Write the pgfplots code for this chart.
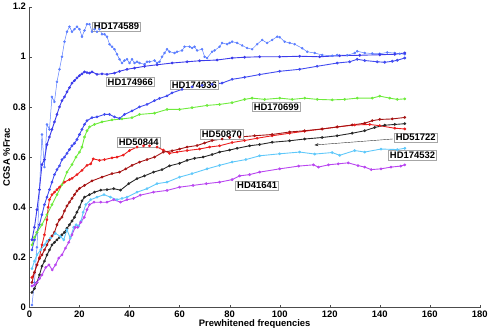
\documentclass[border=0pt]{standalone}
\usepackage{pgfplots}
\pgfplotsset{compat=1.18}
\usepackage{fontspec}
\setmainfont{Liberation Sans}
\usetikzlibrary{arrows.meta}

\definecolor{cA}{RGB}{90,125,255}
\definecolor{cB}{RGB}{60,60,235}
\definecolor{cC}{RGB}{65,75,240}
\definecolor{cgreen}{RGB}{110,235,60}
\definecolor{cred}{RGB}{235,30,30}
\definecolor{cdred}{RGB}{165,20,20}
\definecolor{cblack}{RGB}{40,40,40}
\definecolor{ccyan}{RGB}{95,200,250}
\definecolor{cpurple}{RGB}{185,70,240}

\tikzset{lbl/.style={draw=gray!70, fill=white, font=\fontsize{9.5}{10}\selectfont\bfseries,
  inner sep=1.5pt, line width=0.6pt}}

\begin{document}
\begin{tikzpicture}
\begin{axis}[
  scale only axis,
  width=452bp, height=302bp,
  xmin=0, xmax=180, ymin=0, ymax=1.2,
  axis lines=left,
  axis line style={-, draw=black!70},
  tick align=inside,
  major tick length=3pt,
  tick style={black!70},
  xtick={0,20,...,180},
  ytick={0,0.2,...,1.2},
  yticklabel style={/pgf/number format/fixed},
  /pgf/number format/assume math mode=true,
  tick label style={font=\fontsize{9.5}{10}\selectfont\bfseries},
  label style={font=\fontsize{9.5}{10}\selectfont\bfseries},
  xlabel={Prewhitened frequencies},
  ylabel={CGSA \%Frac},
  xlabel style={yshift=5pt},
  ylabel style={yshift=-4pt},
  clip=false,
  every axis plot/.append style={mark=*, mark size=0.9pt, line width=0.9pt},
]

% HD174589
\addplot[cA, line width=0.5pt, mark size=1pt] coordinates {
(1,0.01)(2,0.10)(3,0.24)(4,0.47)(5,0.69)(6,0.56)(7,0.73)(8,0.71)(9,0.84)(10,0.82)
(11,0.90)(12,0.95)(13,1.00)(14,1.06)(15,1.10)(16,1.12)(17,1.10)(18,1.11)(19,1.12)(20,1.11)
(21,1.08)(22,1.105)(23,1.13)(24,1.13)(25,1.10)(26,1.11)(27,1.10)(28,1.11)(29,1.09)(30,1.09)
(31,1.08)(32,1.05)(33,1.04)(34,1.03)(35,1.01)(36,0.99)(37,0.975)(38,0.985)(39,0.99)(40,0.975)
(41,0.99)(42,0.975)(43,0.98)(44,0.975)(46,0.97)(47,0.98)(48,0.98)(50,0.985)(51,0.975)(52,0.98)
(53,1.0)(54,1.015)(55,1.03)(56,1.02)(58,1.015)(59,1.02)(61,1.025)(62,1.04)(64,1.04)(65,1.035)
(66,1.04)(67,1.025)(69,1.03)(70,1.0)(71,0.995)(73,1.02)(74,1.025)(76,1.04)(77,1.055)(79,1.05)
(80,1.055)(81,1.06)(83,1.055)(85,1.045)(87,1.035)(89,1.03)(91,1.05)(93,1.067)(95,1.055)(97,1.067)
(99,1.08)(100,1.078)(102,1.06)(104,1.055)(106,1.05)(109,1.034)(111,1.02)(114,1.015)(117,1.007)
(121,1.004)(123,1.007)(127,1.006)(130,1.015)(131,1.022)(134,1.015)(137,1.013)(140,1.012)
(143,1.017)(146,1.015)(148,1.012)(150,1.01)};

% HD174966
\addplot[cB] coordinates {
(1,0.27)(2,0.32)(3,0.39)(4,0.47)(5,0.57)(6,0.59)(7,0.65)(8,0.68)(9,0.71)(10,0.74)
(11,0.77)(12,0.80)(13,0.825)(14,0.84)(15,0.86)(16,0.877)(17,0.895)(18,0.905)(19,0.916)(20,0.925)
(21,0.932)(22,0.94)(23,0.937)(24,0.935)(25,0.94)(27,0.93)(29,0.932)(31,0.93)(34,0.935)(36,0.942)
(39,0.95)(42,0.955)(46,0.962)(51,0.968)(57,0.975)(63,0.98)(68,0.984)(75,0.987)(81,0.995)(86,0.998)
(92,1.0)(100,1.0)(108,1.002)(116,1.0)(124,1.004)(132,1.006)(140,1.008)(146,1.01)(150,1.015)};

% HD174936
\addplot[cC] coordinates {
(1,0.23)(2,0.27)(3,0.30)(4,0.33)(5,0.37)(6,0.41)(7,0.44)(8,0.47)(9,0.50)(10,0.53)
(11,0.55)(12,0.565)(13,0.59)(14,0.60)(15,0.615)(16,0.63)(17,0.645)(18,0.655)(19,0.67)(20,0.69)
(21,0.71)(22,0.73)(23,0.745)(25,0.757)(27,0.76)(30,0.77)(32,0.77)(34,0.76)(36,0.754)(38,0.77)
(41,0.784)(44,0.80)(47,0.81)(50,0.825)(52,0.834)(55,0.844)(57,0.856)(61,0.87)(65,0.88)(69,0.886)
(73,0.89)(77,0.895)(81,0.91)(86,0.918)(92,0.929)(100,0.942)(108,0.95)(115,0.962)(123,0.975)
(128,0.98)(131,0.99)(134,0.985)(139,0.98)(142,0.978)(145,0.982)(147,0.986)(150,0.995)};

% HD170699
\addplot[cgreen] coordinates {
(1,0.25)(2,0.28)(3,0.30)(5,0.33)(7,0.37)(9,0.41)(11,0.45)(13,0.49)(15,0.54)(17,0.57)
(18.6,0.60)(20,0.62)(21,0.64)(22,0.68)(23,0.705)(24,0.72)(26,0.73)(29,0.74)(33,0.748)(37,0.752)
(41,0.757)(44,0.77)(50,0.775)(55,0.79)(60,0.79)(65,0.797)(71,0.806)(76,0.81)(81,0.817)(86,0.83)
(89,0.835)(94,0.83)(100,0.835)(105,0.83)(110,0.835)(115,0.83)(121,0.828)(126,0.83)(131,0.835)
(137,0.835)(140,0.843)(144,0.835)(147,0.83)(150,0.832)};

% HD50844
\addplot[cred] coordinates {
(1,0.12)(2,0.14)(3,0.17)(4,0.20)(5,0.25)(6,0.29)(7,0.35)(7.5,0.40)(8,0.43)(9,0.45)
(10,0.46)(11,0.47)(12,0.48)(14,0.50)(16,0.51)(17,0.515)(19,0.53)(21,0.547)(23,0.567)(24.5,0.573)
(25.5,0.593)(28,0.587)(30,0.59)(33,0.597)(35,0.60)(37.5,0.608)(40,0.626)(43,0.64)(45.6,0.645)
(48,0.645)(51,0.64)(53.5,0.628)(56,0.615)(59,0.62)(63,0.626)(68,0.632)(72,0.64)(76,0.645)
(81,0.658)(86,0.666)(91,0.675)(97,0.685)(104,0.695)(110,0.703)(117,0.712)(123,0.72)(130,0.728)
(136,0.73)(140,0.725)(146,0.715)(150,0.712)};

% HD50870
\addplot[cdred] coordinates {
(1,0.10)(2,0.14)(3,0.17)(4,0.195)(5,0.21)(6,0.23)(7,0.25)(8,0.27)(9,0.285)(10,0.30)
(11,0.33)(12,0.35)(13,0.36)(14,0.385)(15,0.405)(16,0.42)(17,0.435)(18,0.45)(19,0.465)(20,0.475)
(22,0.487)(25,0.505)(29,0.52)(33,0.534)(36,0.54)(38.5,0.553)(41,0.567)(44,0.58)(47,0.59)(50,0.60)
(53.5,0.62)(57,0.625)(60,0.632)(63,0.64)(67,0.646)(70,0.656)(73,0.666)(77,0.672)(80,0.678)
(84,0.68)(90,0.685)(97,0.69)(104,0.70)(110,0.705)(117,0.712)(123,0.72)(129,0.728)(134,0.735)
(137,0.745)(140,0.75)(145,0.752)(150,0.758)};

% HD51722
\addplot[cblack] coordinates {
(1,0.06)(2,0.075)(3,0.10)(4,0.13)(5,0.165)(6,0.185)(7,0.21)(8,0.23)(9,0.25)(10,0.26)
(11,0.27)(12,0.28)(13,0.29)(14,0.30)(15,0.316)(16,0.33)(17,0.345)(18,0.36)(19,0.38)(20,0.40)
(21,0.425)(22,0.44)(24,0.45)(26,0.46)(28.5,0.468)(31,0.47)(33.7,0.474)(36.4,0.468)(39.7,0.494)
(43,0.514)(46,0.525)(49.6,0.54)(53,0.55)(56,0.565)(60,0.575)(63,0.587)(66,0.595)(69.4,0.60)
(73,0.61)(76,0.62)(80,0.628)(83,0.635)(88,0.645)(92,0.65)(97,0.659)(104,0.665)(110,0.672)
(117,0.678)(123,0.685)(129,0.695)(134,0.705)(138,0.718)(142,0.727)(146,0.73)(150,0.733)};

% HD174532
\addplot[ccyan] coordinates {
(1,0.155)(2,0.185)(3,0.21)(4.5,0.23)(6,0.25)(7,0.265)(8.4,0.277)(10.4,0.296)(12.4,0.283)
(13.7,0.27)(15,0.31)(16.3,0.277)(17.7,0.32)(18.7,0.33)(19.7,0.325)(20.6,0.344)(21.5,0.38)
(22.5,0.41)(24.5,0.43)(27,0.44)(29.8,0.45)(32.4,0.44)(35,0.43)(37,0.435)(39,0.44)(43,0.46)
(47,0.474)(51,0.494)(55,0.50)(60,0.52)(65,0.534)(71,0.553)(76,0.567)(81,0.58)(86.5,0.59)
(92,0.605)(100,0.613)(108,0.62)(114,0.612)(121,0.618)(124,0.607)(130,0.626)(134,0.62)
(140.5,0.632)(147,0.63)(150,0.635)};

% HD41641
\addplot[cpurple] coordinates {
(1,0.086)(2,0.09)(3,0.10)(4,0.115)(5,0.13)(6.5,0.16)(7.8,0.17)(9.1,0.15)(10.4,0.17)(11.7,0.197)
(13,0.21)(14.4,0.237)(15.7,0.26)(17,0.29)(18.3,0.32)(19.3,0.32)(20.5,0.34)(21.9,0.36)(23,0.39)
(24,0.41)(25.8,0.42)(28.5,0.42)(31,0.42)(33.7,0.43)(36.4,0.42)(39,0.43)(41.6,0.435)(44.3,0.448)
(49.6,0.46)(55,0.467)(60,0.48)(65.4,0.487)(70.7,0.494)(76,0.50)(81,0.51)(84,0.525)(88,0.53)
(92,0.54)(100,0.553)(107.6,0.564)(113.5,0.569)(115.5,0.56)(119.5,0.569)(123.4,0.573)
(127.4,0.577)(131.3,0.566)(134,0.56)(136.6,0.55)(140.5,0.553)(144.5,0.56)(148.4,0.564)(150,0.569)};

\draw[-{Stealth[length=4pt,width=3pt]}, line width=0.4pt, black!80]
  (axis cs:145.2,0.672) -- (axis cs:113.9,0.648);

\node[lbl] at (axis cs:34.8,1.12) {HD174589};
\node[lbl] at (axis cs:40.3,0.90) {HD174966};
\node[lbl] at (axis cs:65.9,0.888) {HD174936};
\node[lbl] at (axis cs:98.7,0.80) {HD170699};
\node[lbl] at (axis cs:43.7,0.659) {HD50844};
\node[lbl] at (axis cs:76.9,0.69) {HD50870};
\node[lbl] at (axis cs:154.4,0.677) {HD51722};
\node[lbl] at (axis cs:153.1,0.607) {HD174532};
\node[lbl] at (axis cs:91,0.486) {HD41641};
\end{axis}
\end{tikzpicture}
\end{document}
